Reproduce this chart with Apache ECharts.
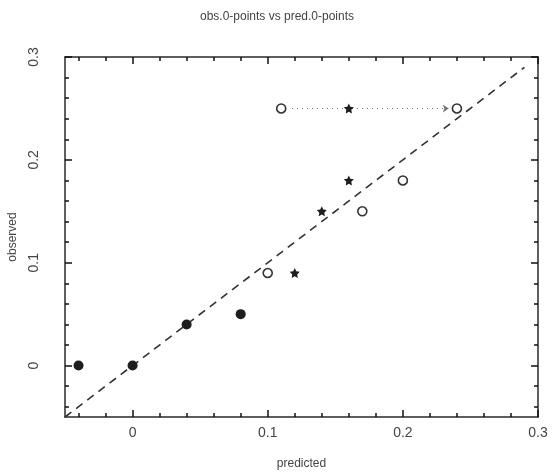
<!DOCTYPE html>
<html>
<head>
<meta charset="utf-8">
<script src="https://cdn.jsdelivr.net/npm/echarts@6/dist/echarts.min.js"></script>
<style>
  html, body { margin: 0; padding: 0; background: #fff; }
  #chart { width: 554px; height: 473px; }
</style>
</head>
<body>
<div id="chart"></div>
<script>
// observed vs predicted 0-points
const filledPoints = [[-0.04, 0], [0, 0], [0.04, 0.04], [0.08, 0.05]]
const openPoints = [[0.1, 0.09], [0.17, 0.15], [0.2, 0.18], [0.11, 0.25], [0.24, 0.25]]
const starPoints = [[0.12, 0.09], [0.14, 0.15], [0.16, 0.18], [0.16, 0.25]]
const shiftArrow = [[0.118, 0.25], [0.234, 0.25]]
const diagonal = [[-0.05, -0.05], [0.29, 0.29]]

const axisMin = -0.05
const axisMax = 0.3
const majorTicks = [0, 0.1, 0.2, 0.3]
const minorTicks = [-0.04, -0.02, 0.02, 0.04, 0.06, 0.08, 0.12, 0.14, 0.16, 0.18, 0.22, 0.24, 0.26, 0.28]

const INK = "#2a2a2a"
const FONT = "Liberation Sans"
const STAR = "path://M0,-10 L2.94,-4.05 L9.51,-3.09 L4.76,1.55 L5.88,8.09 L0,5 L-5.88,8.09 L-4.76,1.55 L-9.51,-3.09 L-2.94,-4.05 Z"

// one axis per tick size and side, so the frame gets inside ticks all round
function tickAxis(position, ticks, length, extra) {
  return Object.assign({
    type: "value",
    position,
    min: axisMin,
    max: axisMax,
    axisLine: { show: false, onZero: false },
    axisTick: { show: true, inside: true, length, customValues: ticks, lineStyle: { color: "#111", width: 1.5 } },
    axisLabel: { show: false },
    splitLine: { show: false }
  }, extra || {})
}

const frameLine = { show: true, onZero: false, lineStyle: { color: INK, width: 1.5 } }

const chart = echarts.init(document.getElementById("chart"), null, { renderer: "canvas" })

chart.setOption({
  backgroundColor: "#fff",
  animation: false,
  title: {
    text: "obs.0-points vs pred.0-points",
    left: "center",
    top: 6,
    textStyle: { fontFamily: FONT, fontSize: 12, fontWeight: "normal", color: "#444" }
  },
  grid: { left: 65, right: 16, top: 57, bottom: 56, outerBoundsMode: "none" },
  xAxis: [
    tickAxis("bottom", majorTicks, 7, {
      axisLine: frameLine,
      axisLabel: { show: true, customValues: majorTicks, margin: 9, fontFamily: FONT, fontSize: 14, color: "#444" },
      name: "predicted",
      nameLocation: "middle",
      nameGap: 41,
      nameTextStyle: { fontFamily: FONT, fontSize: 12, color: "#444" }
    }),
    tickAxis("bottom", minorTicks, 4),
    tickAxis("top", majorTicks, 7, { axisLine: frameLine }),
    tickAxis("top", minorTicks, 4)
  ],
  yAxis: [
    tickAxis("left", majorTicks, 7, {
      axisLine: frameLine,
      axisLabel: { show: true, customValues: majorTicks, rotate: 90, margin: 24, fontFamily: FONT, fontSize: 14, color: "#444" },
      name: "observed",
      nameLocation: "middle",
      nameGap: 34,
      nameTextStyle: { fontFamily: FONT, fontSize: 12, color: "#444" }
    }),
    tickAxis("left", minorTicks, 4),
    tickAxis("right", majorTicks, 7, { axisLine: frameLine }),
    tickAxis("right", minorTicks, 4)
  ],
  series: [
    {
      type: "line",
      data: diagonal,
      symbol: "none",
      lineStyle: { color: "#333", width: 1.6, type: [8, 6] },
      z: 1
    },
    {
      type: "lines",
      coordinateSystem: "cartesian2d",
      symbol: ["none", "arrow"],
      symbolSize: 6,
      lineStyle: { color: "#777", width: 1.2, type: [1, 4], opacity: 1 },
      data: [{ coords: shiftArrow }],
      z: 1
    },
    {
      type: "scatter",
      data: filledPoints,
      symbol: "circle",
      symbolSize: 10,
      itemStyle: { color: "#1e1e1e", opacity: 1 },
      z: 3
    },
    {
      type: "scatter",
      data: openPoints,
      symbol: "circle",
      symbolSize: 9,
      itemStyle: { color: "#fff", borderColor: "#333", borderWidth: 1.6, opacity: 1 },
      z: 3
    },
    {
      type: "scatter",
      data: starPoints,
      symbol: STAR,
      symbolSize: 10,
      itemStyle: { color: "#1e1e1e", opacity: 1 },
      z: 3
    }
  ]
})
</script>
</body>
</html>
